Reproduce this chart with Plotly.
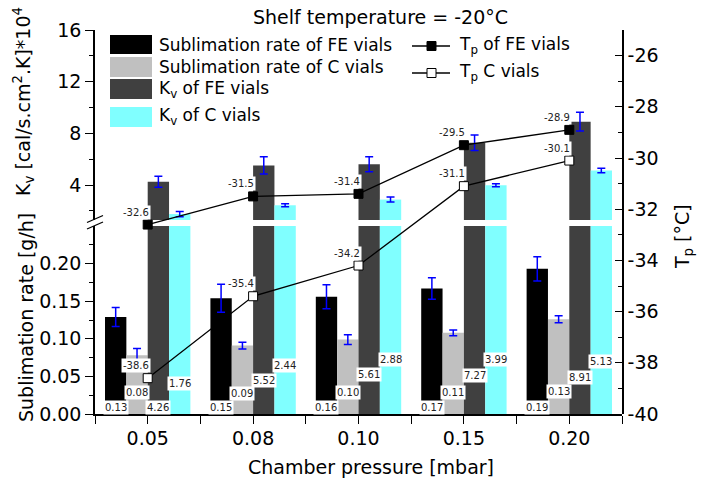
import plotly.graph_objects as go

# ---------------- data ----------------
pressures = ["0.05", "0.08", "0.10", "0.15", "0.20"]
subl_fe = [0.129, 0.154, 0.156, 0.167, 0.193]
subl_fe_err = [0.0125, 0.0187, 0.016, 0.0143, 0.016]
subl_c = [0.078, 0.091, 0.099, 0.108, 0.126]
subl_c_err = [0.009, 0.0045, 0.0065, 0.0038, 0.0045]
kv_fe = [4.26, 5.52, 5.61, 7.27, 8.91]
kv_fe_err = [0.43, 0.67, 0.58, 0.60, 0.73]
kv_c = [1.76, 2.44, 2.88, 3.99, 5.13]
kv_c_err = [0.20, 0.12, 0.19, 0.12, 0.18]
tp_fe = [-32.6, -31.5, -31.4, -29.5, -28.9]
tp_c = [-38.6, -35.4, -34.2, -31.1, -30.1]

# tick values / labels
subl_ticks = [0, 0.05, 0.10, 0.15, 0.20]
kv_ticks = [4, 8, 12, 16]
tp_ticks = [-40, -38, -36, -34, -32, -30, -28, -26]
tp_ticktext = ["-40", "-38", "-36", "-34", "-32", "-30", "-28", "-26"]

# label heights (in sublimation-rate axis units) for the value boxes
label_h_subl_fe = [0.008, 0.008, 0.008, 0.008, 0.008]
label_h_subl_c = [0.028, 0.027, 0.028, 0.028, 0.030]
label_h_kv_fe = [0.009, 0.044, 0.053, 0.051, 0.049]
label_h_kv_c = [0.040, 0.065, 0.073, 0.073, 0.070]

idx = list(range(len(pressures)))

FONT = "DejaVu Sans"
W, H = 701, 479
ML, MR, MT, MB = 95, 79, 30, 65
PW = W - ML - MR
PH = H - MT - MB


def px(x):
    return (x - ML) / PW


def py(y):
    return (H - MB - y) / PH


BLUE = "#0000ff"
C_FE = "#000000"
C_C = "#c0c0c0"
C_KFE = "#404040"
C_KC = "#80ffff"

bargap = 0.19
bar_w = (1 - bargap) / 4

fig = go.Figure()

series = [
    (subl_fe, subl_fe_err, C_FE),
    (subl_c, subl_c_err, C_C),
    (kv_fe, kv_fe_err, C_KFE),
    (kv_c, kv_c_err, C_KC),
]

for yax in ["y", "y2"]:
    for vals, errs, col in series:
        fig.add_trace(go.Bar(
            x=idx, y=vals, xaxis="x", yaxis=yax,
            marker=dict(color=col, line=dict(width=0)),
            error_y=dict(type="data", array=errs, color=BLUE, thickness=1.5, width=4),
            showlegend=False, hoverinfo="skip",
        ))

fig.add_trace(go.Scatter(
    x=idx, y=tp_fe, xaxis="x", yaxis="y3", mode="lines+markers",
    line=dict(color="black", width=1.3),
    marker=dict(symbol="square", size=9, color="black", line=dict(color="black", width=1)),
    showlegend=False,
))
fig.add_trace(go.Scatter(
    x=idx, y=tp_c, xaxis="x", yaxis="y3", mode="lines+markers",
    line=dict(color="black", width=1.3),
    marker=dict(symbol="square", size=9, color="white", line=dict(color="black", width=1)),
    showlegend=False,
))

annotations = []

# value labels on the bars
label_sets = [
    (subl_fe, label_h_subl_fe),
    (subl_c, label_h_subl_c),
    (kv_fe, label_h_kv_fe),
    (kv_c, label_h_kv_c),
]
for k, (vals, hs) in enumerate(label_sets):
    for i, (v, h) in enumerate(zip(vals, hs)):
        annotations.append(dict(
            x=i + (k - 1.5) * bar_w, y=h, xref="x", yref="y",
            text=f"{v:.2f}", showarrow=False,
            font=dict(family=FONT, size=10, color="#222"),
            bgcolor="white", borderpad=1,
            xanchor="center", yanchor="middle",
        ))

# Tp labels
for vals in (tp_fe, tp_c):
    for i, v in enumerate(vals):
        annotations.append(dict(
            x=i, y=v, xref="x", yref="y3",
            text=f"{v:.1f}", showarrow=False,
            font=dict(family=FONT, size=10, color="#222"),
            bgcolor="white", borderpad=1,
            xanchor="right", yanchor="bottom", xshift=3, yshift=5,
        ))

# title and axis titles
annotations.append(dict(text="Shelf temperature = -20°C", x=px(380.5), y=py(16.5),
                        xref="paper", yref="paper", showarrow=False,
                        font=dict(family=FONT, size=19, color="black"),
                        xanchor="center", yanchor="middle"))
annotations.append(dict(text="Chamber pressure [mbar]", x=px(371), y=py(467),
                        xref="paper", yref="paper", showarrow=False,
                        font=dict(family=FONT, size=19, color="black"),
                        xanchor="center", yanchor="middle"))
annotations.append(dict(text="Sublimation rate [g/h]", x=px(26), y=py(318),
                        xref="paper", yref="paper", showarrow=False, textangle=-90,
                        font=dict(family=FONT, size=19, color="black"),
                        xanchor="center", yanchor="middle"))
annotations.append(dict(text="K<sub>v</sub> [cal/s.cm<sup>2</sup>.K]*10<sup>4</sup>",
                        x=px(23), y=py(102),
                        xref="paper", yref="paper", showarrow=False, textangle=-90,
                        font=dict(family=FONT, size=19, color="black"),
                        xanchor="center", yanchor="middle"))
annotations.append(dict(text="T<sub>p</sub> [°C]", x=px(683), y=py(237),
                        xref="paper", yref="paper", showarrow=False, textangle=-90,
                        font=dict(family=FONT, size=19, color="black"),
                        xanchor="center", yanchor="middle"))

# manual legend
shapes = []
leg_bars = [
    (C_FE, 35, 54, "Sublimation rate of FE vials", 45),
    (C_C, 57, 77, "Sublimation rate of C vials", 67),
    (C_KFE, 79, 99, "K<sub>v</sub> of FE vials", 89),
    (C_KC, 107, 127, "K<sub>v</sub> of C vials", 116),
]
for col, y0, y1, txt, yc in leg_bars:
    shapes.append(dict(type="rect", xref="paper", yref="paper",
                       x0=px(110), x1=px(152), y0=py(y1), y1=py(y0),
                       fillcolor=col, line=dict(width=0)))
    annotations.append(dict(text=txt, x=px(157), y=py(yc), xref="paper", yref="paper",
                            showarrow=False, xanchor="left", yanchor="middle",
                            font=dict(family=FONT, size=17, color="black")))

leg_lines = [("black", 46, "T<sub>p</sub> of FE vials"), ("white", 73, "T<sub>p</sub> C vials")]
for fill, yc, txt in leg_lines:
    shapes.append(dict(type="line", xref="paper", yref="paper",
                       x0=px(412), x1=px(450), y0=py(yc), y1=py(yc),
                       line=dict(color="black", width=1.3)))
    shapes.append(dict(type="rect", xref="paper", yref="paper",
                       x0=px(427), x1=px(436), y0=py(yc + 4.5), y1=py(yc - 4.5),
                       fillcolor=fill, line=dict(color="black", width=1)))
    annotations.append(dict(text=txt, x=px(457), y=py(yc), xref="paper", yref="paper",
                            showarrow=False, xanchor="left", yanchor="middle",
                            font=dict(family=FONT, size=17, color="black")))

# axis break marks
for yy in (0, 6.5):
    shapes.append(dict(type="line", xref="paper", yref="paper",
                       x0=px(87), x1=px(103), y0=py(222.5 + yy), y1=py(215.5 + yy),
                       line=dict(color="black", width=1.3)))

lower_top = py(226)
upper_bot = py(220)

tickfont = dict(family=FONT, size=19, color="black")
half_ticks = [i / 2 - 0.5 for i in range(11)]

fig.update_layout(
    width=W, height=H, autosize=False,
    margin=dict(l=ML, r=MR, t=MT, b=MB),
    paper_bgcolor="white", plot_bgcolor="rgba(0,0,0,0)",
    barmode="group", bargap=bargap, bargroupgap=0,
    showlegend=False,
    font=dict(family=FONT, color="black"),
    annotations=annotations, shapes=shapes,
    xaxis=dict(domain=[0, 1], range=[-0.5, 4.5], anchor="y",
               tickmode="array", tickvals=idx, ticktext=pressures,
               ticks="outside", ticklen=8, tickwidth=1.3, tickcolor="black",
               ticklabelstandoff=-2,
               minor=dict(tickmode="array", tickvals=half_ticks, ticks="outside",
                          ticklen=8, tickwidth=1.3, tickcolor="black"),
               showline=True, linecolor="black", linewidth=1.5,
               showgrid=False, zeroline=False, tickfont=tickfont),
    xaxis2=dict(overlaying="x", anchor="y2", side="top", range=[-0.5, 4.5],
                tickmode="array", tickvals=half_ticks, ticks="inside", ticklen=5,
                tickwidth=1.3, tickcolor="black", showticklabels=False,
                showline=True, linecolor="black", linewidth=1.5,
                showgrid=False, zeroline=False),
    yaxis=dict(domain=[0, lower_top], range=[0, 0.25], anchor="x",
               tickmode="array", tickvals=subl_ticks,
               tickformat=".2f", ticks="outside", ticklen=8, tickwidth=1.3,
               tickcolor="black", ticklabelstandoff=0,
               minor=dict(tickmode="array", tickvals=[0.025, 0.075, 0.125, 0.175, 0.225],
                          ticks="outside", ticklen=4, tickwidth=1.3, tickcolor="black"),
               showline=True, linecolor="black", linewidth=1.5,
               showgrid=False, zeroline=False, tickfont=tickfont),
    yaxis2=dict(domain=[upper_bot, 1], range=[1.3, 16], anchor="x",
                tickmode="array", tickvals=kv_ticks,
                ticks="outside", ticklen=8, tickwidth=1.3, tickcolor="black",
                ticklabelstandoff=0,
                minor=dict(tickmode="array", tickvals=[2, 6, 10, 14],
                           ticks="outside", ticklen=4, tickwidth=1.3, tickcolor="black"),
                showline=True, linecolor="black", linewidth=1.5,
                showgrid=False, zeroline=False, tickfont=tickfont),
    yaxis3=dict(domain=[0, 1], range=[-40, -25], anchor="x", side="right",
                tickmode="array", tickvals=tp_ticks, ticktext=tp_ticktext,
                ticks="inside", ticklen=7, tickwidth=1.3, tickcolor="black",
                minor=dict(tickmode="array", tickvals=[-39, -37, -35, -33, -31, -29, -27, -25],
                           ticks="inside", ticklen=4, tickwidth=1.3, tickcolor="black"),
                showline=True, linecolor="black", linewidth=1.5,
                showgrid=False, zeroline=False, tickfont=tickfont),
)

fig.write_html("out.html")
